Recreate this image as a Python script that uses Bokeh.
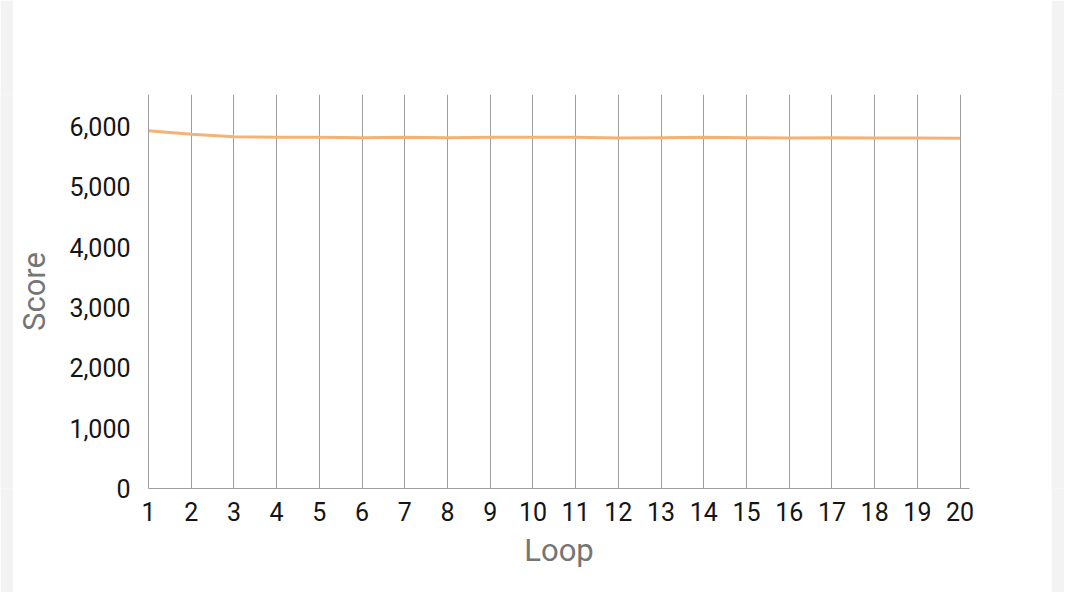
from bokeh.plotting import figure
from bokeh.layouts import row
from bokeh.models import NumeralTickFormatter, FixedTicker, Range1d
from bokeh.embed import file_html
from bokeh.resources import INLINE

loops = list(range(1, 21))
scores = [5930, 5870, 5830, 5820, 5820, 5815, 5820, 5815, 5820, 5820,
          5820, 5810, 5815, 5820, 5815, 5810, 5815, 5810, 5810, 5805]
y_ticks = [0, 1000, 2000, 3000, 4000, 5000, 6000]

FONT = "Roboto"
GRAY_BG = "#f3f3f3"

p = figure(width=1038, height=592, output_backend="svg", toolbar_location=None,
           x_range=Range1d(1, 20.22), y_range=Range1d(0, 6530),
           min_border_left=134, min_border_right=82, min_border_top=94, min_border_bottom=104)
p.outline_line_color = None
p.background_fill_color = "white"
p.border_fill_color = "white"

p.line(loops, scores, line_color="#f6b274", line_width=3)

p.xaxis.ticker = FixedTicker(ticks=loops)
p.yaxis.ticker = FixedTicker(ticks=y_ticks)
p.yaxis.formatter = NumeralTickFormatter(format="0,0")

p.ygrid.grid_line_color = None
p.xgrid.ticker = FixedTicker(ticks=loops)
p.xgrid.grid_line_color = "#9e9e9e"
p.xgrid.grid_line_width = 1

for ax in (p.xaxis[0], p.yaxis[0]):
    ax.major_tick_line_color = None
    ax.minor_tick_line_color = None
    ax.major_label_text_font = FONT
    ax.major_label_text_font_size = "25px"
    ax.major_label_text_color = "#151515"
    ax.axis_label_text_font = FONT
    ax.axis_label_text_font_size = "31px"
    ax.axis_label_text_font_style = "normal"
    ax.axis_label_text_color = "#757575"

p.xaxis.axis_line_color = "#9e9e9e"
p.yaxis.axis_line_color = "#9e9e9e"
p.xaxis.axis_label = "Loop"
p.yaxis.axis_label = "Score"
p.xaxis.major_label_standoff = 7
p.yaxis.major_label_standoff = 12
p.xaxis.axis_label_standoff = 8
p.yaxis.axis_label_standoff = 13


def strip():
    s = figure(width=13, height=592, output_backend="svg", toolbar_location=None,
               x_axis_type=None, y_axis_type=None, min_border=0)
    s.outline_line_color = None
    s.background_fill_color = GRAY_BG
    s.border_fill_color = GRAY_BG
    s.xgrid.grid_line_color = None
    s.ygrid.grid_line_color = None
    return s


layout = row(strip(), p, strip(), spacing=0)

open("out.html", "w").write(file_html(layout, INLINE))
